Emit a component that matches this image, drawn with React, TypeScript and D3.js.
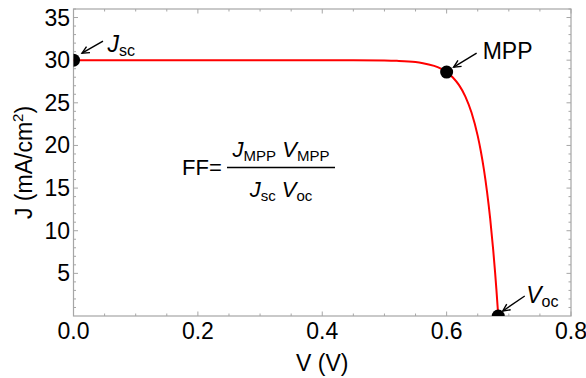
import React from "react";
import * as d3 from "d3";

const voltage = [0, 0.05, 0.1, 0.15, 0.2, 0.25, 0.3, 0.35, 0.4, 0.45, 0.5, 0.52, 0.55, 0.56, 0.58, 0.59, 0.6, 0.61, 0.62, 0.63, 0.64, 0.65, 0.655, 0.66, 0.665, 0.67, 0.675, 0.678, 0.68, 0.682, 0.683];
const current = [30, 30, 30, 30, 30, 30, 30, 30, 30, 29.99, 29.96, 29.92, 29.78, 29.68, 29.33, 29.03, 28.6, 27.97, 27.07, 25.76, 23.86, 21.12, 19.32, 17.16, 14.55, 11.44, 7.66, 5.05, 3.16, 1.09, 0];
const xTicks = [0, 0.2, 0.4, 0.6, 0.8];
const yTicks = [5, 10, 15, 20, 25, 30, 35];
const keyPoints = [
  { name: "Jsc", v: 0, j: 30 },
  { name: "MPP", v: 0.6, j: 28.6 },
  { name: "Voc", v: 0.683, j: 0 },
];

const W = 586;
const H = 378;
const L = 73.5, R = 571, T = 9, B = 316;
const FONT = "Liberation Sans, Arial, Helvetica, sans-serif";
const FRAME = "#a6a6a6";

export default function App() {
  const x = d3.scaleLinear().domain([0, 0.8]).range([L, R]);
  const y = d3.scaleLinear().domain([0, 36]).range([B, T]);
  const pts = voltage.map((v, i) => [v, current[i]] as [number, number]);
  const line = d3
    .line<[number, number]>()
    .x((d) => x(d[0]))
    .y((d) => y(d[1]))
    .curve(d3.curveMonotoneX);

  const xMinor = d3.range(0, 0.8001, 0.05);
  const yMinor = d3.range(1, 36.001, 1);

  const kp = (n: string) => keyPoints.find((k) => k.name === n)!;
  const pj = kp("Jsc"), pm = kp("MPP"), pv = kp("Voc");

  const arrow = (px: number, py: number, hx: number, hy: number, tx: number, ty: number, key: string) => {
    const x1 = px + tx, y1 = py + ty, x2 = px + hx, y2 = py + hy;
    const ang = Math.atan2(y2 - y1, x2 - x1);
    const len = 8, spread = 0.45;
    const a1 = [x2 - len * Math.cos(ang - spread), y2 - len * Math.sin(ang - spread)];
    const a2 = [x2 - len * Math.cos(ang + spread), y2 - len * Math.sin(ang + spread)];
    return (
      <g key={key} stroke="#000" strokeWidth={1.4} fill="none">
        <line x1={x1} y1={y1} x2={x2} y2={y2} />
        <polyline points={`${a1[0]},${a1[1]} ${x2},${y2} ${a2[0]},${a2[1]}`} />
      </g>
    );
  };

  return (
    <svg width={W} height={H} style={{ position: "absolute", left: 0, top: 0 }} fontFamily={FONT}>
      <defs>
        <clipPath id="plot">
          <rect x={L} y={T} width={R - L} height={B - T} />
        </clipPath>
      </defs>
      <rect x={0} y={0} width={W} height={H} fill="#fff" />
      {/* frame */}
      <rect x={L} y={T} width={R - L} height={B - T} fill="none" stroke={FRAME} strokeWidth={1.2} />
      {/* x ticks */}
      {xMinor.map((t, i) => {
        const major = i % 4 === 0;
        const len = major ? 4.5 : 2.5;
        return (
          <g key={"xt" + i} stroke={FRAME} strokeWidth={1}>
            <line x1={x(t)} x2={x(t)} y1={B} y2={B - len} />
            <line x1={x(t)} x2={x(t)} y1={T} y2={T + len} />
          </g>
        );
      })}
      {yMinor.map((t, i) => {
        const major = t % 5 === 0;
        const len = major ? 4.5 : 2.5;
        return (
          <g key={"yt" + i} stroke={FRAME} strokeWidth={1}>
            <line x1={L} x2={L + len} y1={y(t)} y2={y(t)} />
            <line x1={R} x2={R - len} y1={y(t)} y2={y(t)} />
          </g>
        );
      })}
      {xTicks.map((t) => (
        <text key={"xl" + t} x={x(t)} y={339} fontSize={23} textAnchor="middle" fill="#000">
          {t.toFixed(1)}
        </text>
      ))}
      {yTicks.map((t) => (
        <text key={"yl" + t} x={70} y={y(t)} fontSize={23} textAnchor="end" dominantBaseline="central" fill="#000">
          {t}
        </text>
      ))}
      <text x={(L + R) / 2} y={371} fontSize={23} textAnchor="middle" fill="#000">
        V (V)
      </text>
      <text transform={`translate(32,${(T + B) / 2}) rotate(-90)`} fontSize={23} textAnchor="middle" fill="#000">
        J (mA/cm<tspan fontSize={15} dy={-9}>2</tspan>
        <tspan dy={9}>)</tspan>
      </text>

      {/* curve and points */}
      <g clipPath="url(#plot)">
        <path d={line(pts) || ""} fill="none" stroke="#ff0000" strokeWidth={2} />
        {keyPoints.map((k) => (
          <circle key={k.name} cx={x(k.v)} cy={y(k.j)} r={6.5} fill="#000" />
        ))}
      </g>

      {/* annotations */}
      {arrow(x(pj.v), y(pj.j), 8.5, -7, 29.5, -19, "a1")}
      {arrow(x(pm.v), y(pm.j), 7, -5, 30, -19, "a2")}
      {arrow(x(pv.v), y(pv.j), 4.5, -5, 26.5, -20, "a3")}
      <text x={x(pj.v) + 34} y={y(pj.j) - 8} fontSize={23} fill="#000">
        <tspan fontStyle="italic">J</tspan>
        <tspan fontSize={16} dy={4}>sc</tspan>
      </text>
      <text x={x(pm.v) + 36} y={y(pm.j) - 13} fontSize={23} fill="#000">
        MPP
      </text>
      <text x={x(pv.v) + 28} y={y(pv.j) - 13} fontSize={23} fill="#000">
        <tspan fontStyle="italic">V</tspan>
        <tspan fontSize={16} dy={4}>oc</tspan>
      </text>

      {/* fill factor formula */}
      <text x={182} y={175} fontSize={22} fill="#000">FF=</text>
      <line x1={227} x2={335} y1={167.5} y2={167.5} stroke="#000" strokeWidth={1.5} />
      <text x={281} y={157} fontSize={22} textAnchor="middle" fill="#000">
        <tspan fontStyle="italic">J</tspan>
        <tspan fontSize={15} dy={4}>MPP</tspan>
        <tspan dy={-4}> </tspan>
        <tspan fontStyle="italic">V</tspan>
        <tspan fontSize={15} dy={4}>MPP</tspan>
      </text>
      <text x={281} y={197} fontSize={22} textAnchor="middle" fill="#000">
        <tspan fontStyle="italic">J</tspan>
        <tspan fontSize={15} dy={4}>sc</tspan>
        <tspan dy={-4}> </tspan>
        <tspan fontStyle="italic">V</tspan>
        <tspan fontSize={15} dy={4}>oc</tspan>
      </text>
    </svg>
  );
}
